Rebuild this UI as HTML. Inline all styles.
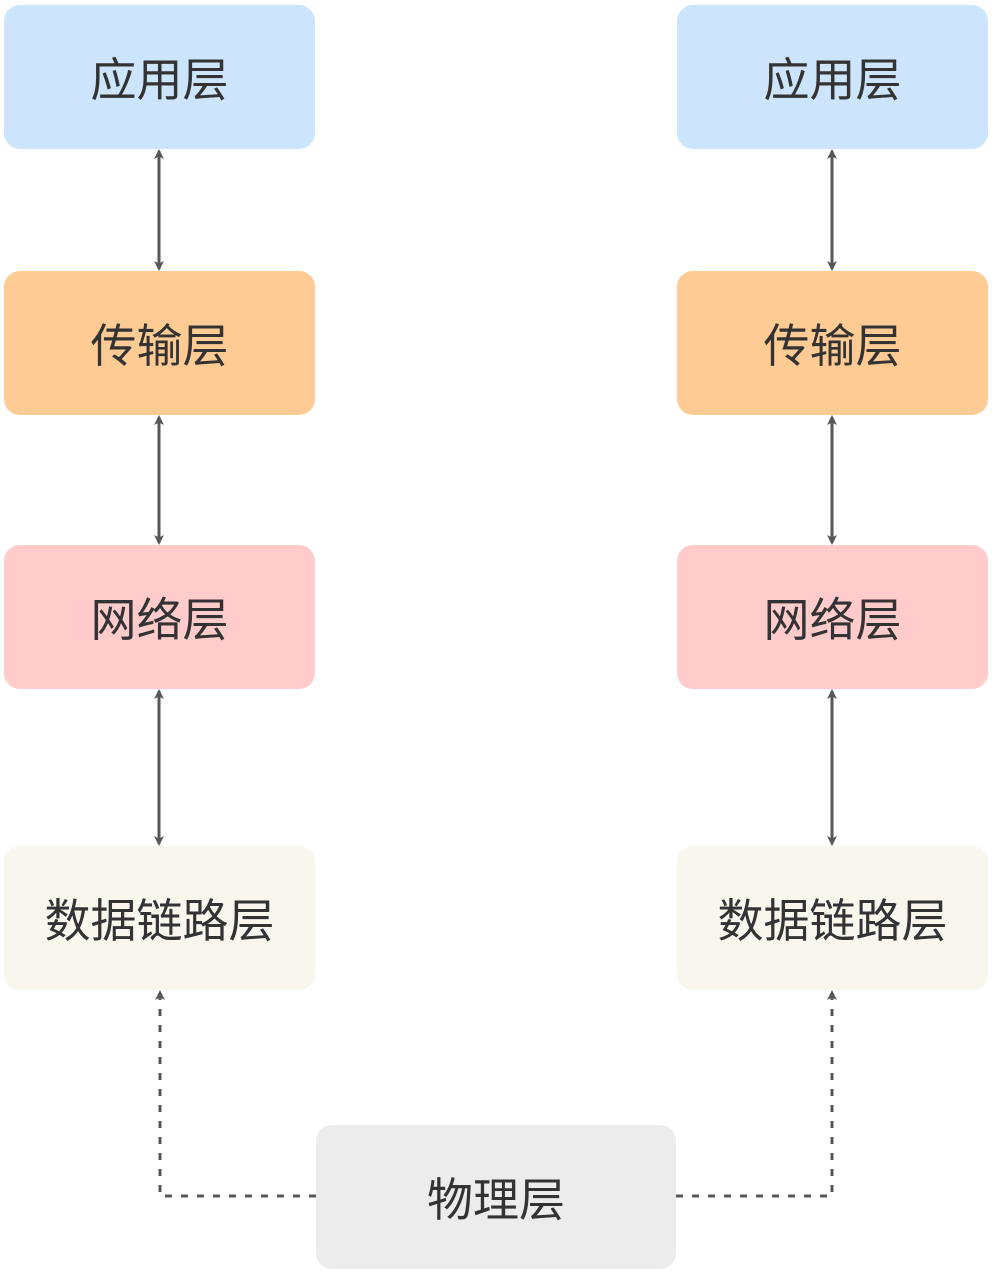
<!DOCTYPE html>
<html><head><meta charset="utf-8"><style>
html,body{margin:0;padding:0;background:#fff;width:992px;height:1274px;overflow:hidden}
.b{position:absolute;border-radius:16px;display:flex;align-items:center;justify-content:center;font-family:"Liberation Sans","Noto Sans CJK SC",sans-serif;font-size:46px;color:#333}
svg{position:absolute;left:0;top:0}
</style></head><body>
<div class="b" style="left:4px;top:5px;width:311px;height:144px;background:#cce5fc">应用层</div>
<div class="b" style="left:677px;top:5px;width:311px;height:144px;background:#cce5fc">应用层</div>
<div class="b" style="left:4px;top:271px;width:311px;height:144px;background:#ffcb94">传输层</div>
<div class="b" style="left:677px;top:271px;width:311px;height:144px;background:#ffcb94">传输层</div>
<div class="b" style="left:4px;top:545px;width:311px;height:144px;background:#ffcbcb">网络层</div>
<div class="b" style="left:677px;top:545px;width:311px;height:144px;background:#ffcbcb">网络层</div>
<div class="b" style="left:4px;top:846px;width:311px;height:144px;background:#f9f6ee">数据链路层</div>
<div class="b" style="left:677px;top:846px;width:311px;height:144px;background:#f9f6ee">数据链路层</div>
<div class="b" style="left:316px;top:1125px;width:360px;height:144px;background:#ececec">物理层</div>
<svg width="992" height="1274">
<defs>
<marker id="a" markerWidth="10" markerHeight="10" refX="8" refY="5" orient="auto-start-reverse" markerUnits="userSpaceOnUse" viewBox="0 0 10 10"><path d="M0,0 L10,5 L0,10 L2.5,5Z" fill="#575757"/></marker>
</defs>
<g stroke="#575757" stroke-width="3" fill="none">
<g marker-start="url(#a)" marker-end="url(#a)">
<line x1="159" y1="151" x2="159" y2="269"/>
<line x1="832" y1="151" x2="832" y2="269"/>
<line x1="159" y1="417" x2="159" y2="543"/>
<line x1="832" y1="417" x2="832" y2="543"/>
<line x1="159" y1="691" x2="159" y2="844"/>
<line x1="832" y1="691" x2="832" y2="844"/>
</g>
<g stroke-dasharray="7 9" marker-end="url(#a)">
<polyline points="316,1196 160,1196 160,992"/>
<polyline points="676,1196 832,1196 832,992"/>
</g>
</g>
</svg>
</body></html>
